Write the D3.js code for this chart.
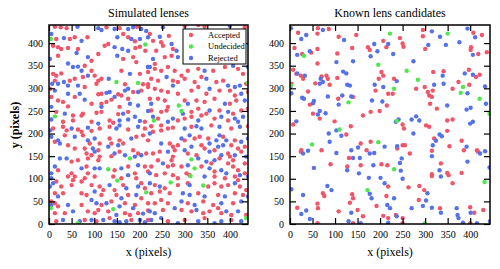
<!DOCTYPE html>
<html>
<head>
<meta charset="utf-8">
<script src="https://cdn.jsdelivr.net/npm/d3@7"></script>
<style>
  html, body { margin: 0; padding: 0; background: #fff; }
  svg { display: block; font-family: "Liberation Serif", "Times New Roman", serif; }
</style>
</head>
<body>
<svg id="chart" width="500" height="269"></svg>
<script>
// Simulated lenses: points (pixel units)
const simAccepted = [
  [13,436],[26,435],[39,433],[127,435],[156,433],[195,436],
  [16,409],[46,409],[57,413],[85,413],[131,398],[123,394],[164,420],[175,413],[190,404],
  [9,394],[20,391],[27,387],[42,389],[64,387],[109,376],[191,389],[201,392],[213,383],
  [20,372],[94,361],[164,365],[186,369],[193,358],[79,350],[94,339],
  [9,332],[16,328],[27,333],[13,317],[46,317],[57,321],[75,325],[101,328],[109,317],[116,321],[160,339],[201,332],[219,336],
  [2,299],[79,303],[105,310],[168,309],[208,309],[219,309],[186,292],[109,287],[116,288],[153,287],[160,284],[204,295],
  [5,281],[20,273],[31,270],[57,281],[94,266],[116,266],[127,270],[138,275],[175,277],[42,260],[156,259],
  [16,248],[53,240],[72,240],[75,244],[105,246],[116,248],[153,243],[175,248],[31,226],[53,229],[94,226],[134,229],[142,224],[212,226],
  [300,438],[330,440],[344,436],[433,435],
  [223,420],[230,405],[248,402],[252,394],[265,416],[274,387],[237,383],[256,369],[271,372],[234,354],
  [234,343],[248,339],[263,347],[278,339],[293,328],[307,339],[330,343],[363,339],[389,347],[418,343],[429,332],
  [226,321],[241,317],[274,317],[285,314],[300,321],[322,314],[337,325],[370,314],[385,317],[436,310],
  [219,303],[234,299],[248,295],[263,292],[285,288],[315,295],[330,303],[348,288],[377,295],[400,295],[411,284],[440,292],
  [223,277],[241,277],[256,273],[263,259],[300,273],[326,273],[344,270],[366,277],[400,266],[414,273],
  [226,251],[248,248],[260,251],[315,248],[330,255],[348,244],[377,251],[407,244],[425,251],[440,255],
  [241,233],[285,229],[300,233],[315,237],[337,240],[366,233],[396,229],
  [9,211],[31,215],[39,207],[64,209],[72,204],[94,206],[112,211],[134,215],[175,209],[212,211],
  [13,182],[35,196],[75,196],[90,178],[112,178],[134,189],[138,178],[156,185],[164,178],[193,193],[208,196],[219,185],
  [42,174],[57,167],[79,167],[109,163],[83,156],[94,152],[112,149],[138,150],[156,160],[186,163],[197,156],[215,156],[50,138],[64,141],[86,145],[109,141],
  [20,119],[50,112],[57,105],[83,127],[86,112],[145,119],[175,127],[212,127],[219,116],[42,105],[53,97],[79,101],[101,105],[142,105],[160,101],[190,112],[193,101],[204,90],
  [16,94],[27,83],[50,86],[72,94],[94,86],[112,83],[120,75],[164,86],[212,79],[13,68],[31,68],[72,68],[83,64],[116,64],[145,75],[149,64],[175,64],[204,57],
  [5,50],[13,46],[20,39],[72,42],[116,42],[138,50],[168,46],[190,42],[219,46],[35,24],[13,24],[86,28],[101,24],[109,31],[131,28],[168,24],[179,20],[197,24],[219,30],[16,6],[79,9],[105,6],[134,13],[182,9],[219,9],
  [226,216],[248,218],[263,211],[274,213],[315,215],[359,218],[403,211],[440,216],
  [230,204],[248,207],[300,185],[322,189],[333,193],[352,189],[385,193],[411,185],[267,178],[274,171],[285,174],[337,174],[344,167],[403,174],[418,167],[433,171],
  [230,156],[245,160],[278,163],[274,149],[307,156],[326,152],[366,163],[396,156],[400,149],[425,160],[241,141],[271,141],[359,134],[377,145],[396,134],[407,141],[433,134],
  [226,127],[263,127],[274,130],[293,127],[304,112],[311,108],[337,127],[366,116],[407,127],[418,119],[433,112],[237,108],[256,112],[274,108],[285,101],[366,105],[389,101],[411,105],[418,97],
  [234,86],[256,79],[285,86],[307,90],[352,83],[366,90],[381,83],[396,86],[422,83],[436,75],[226,68],[245,72],[267,68],[330,68],[374,64],[411,68],[429,64],
  [234,46],[248,53],[263,46],[307,46],[341,50],[363,42],[407,46],[252,31],[293,31],[315,28],[341,24],[355,28],[374,35],[381,24],[403,20],[436,20],[263,6],[300,9],[344,13],[403,9]
];
const simUndecided = [
  [4,409],[213,397],[149,314],[197,312],[13,238],
  [440,312],[287,262],[293,250],[232,229],
  [179,145],[131,121],[151,96],[215,70],[4,35],[142,33],[64,2],
  [315,143],[322,123],[313,106],[269,92],[341,85],[436,13]
];
const simRejected = [
  [63,436],[109,433],[116,429],[145,431],[175,431],[186,435],[204,431],[215,427],
  [5,420],[33,411],[72,405],[151,413],[182,409],[201,409],[219,413],
  [61,378],[145,391],[162,387],[175,383],
  [2,365],[86,369],[151,372],[219,347],[42,355],[53,347],[64,348],
  [7,310],[20,310],[33,314],[72,339],[86,328],[132,321],[179,332],
  [13,295],[42,306],[64,306],[175,299],[168,295],[42,288],[68,288],[127,290],[134,292],[197,292],
  [79,275],[145,281],[179,266],[197,262],[5,259],[116,259],
  [35,244],[164,244],[219,250],[5,231],[109,222],[156,229],[175,231],[190,237],[201,228],
  [252,435],[400,438],[245,414],[271,398],[282,383],[230,365],[285,369],[219,347],
  [223,347],[344,339],[407,350],[440,347],
  [260,325],[348,321],[396,306],[411,303],[422,306],
  [274,306],[355,299],[425,288],
  [226,266],[307,266],[389,266],[433,273],
  [296,244],[355,251],[396,248],
  [230,237],[263,226],[274,233],[330,229],[381,237],[411,233],[418,226],[429,237],
  [2,207],[50,211],[86,213],[149,211],[156,218],[197,215],
  [5,193],[20,185],[24,178],[57,193],[86,185],[101,189],[131,171],[153,174],[182,189],
  [97,167],[101,160],[145,156],[168,152],[190,149],[204,152],[24,145],[39,145],
  [13,127],[5,112],[72,123],[101,123],[112,123],[160,123],[197,130],[175,108],
  [5,101],[2,83],[9,90],[134,86],[171,79],[197,83],[20,61],[101,72],[160,57],[193,64],
  [5,42],[42,42],[94,53],[105,46],[127,46],[156,39],[186,35],[53,28],[149,20],[208,23],[31,9],[68,6],[94,9],[120,9],[145,6],[156,4],[171,6],[201,9],[212,4],
  [300,211],[326,216],[337,211],[377,215],[422,215],
  [223,200],[293,189],[311,196],[355,178],[370,185],[377,196],[392,185],[425,182],[440,189],[248,178],[315,171],[374,171],[385,174],
  [263,160],[300,163],[355,160],[381,152],[411,152],[436,149],[330,145],[348,138],[366,141],
  [252,134],[307,130],[355,123],[381,119],[392,112],[422,108],[223,112],[344,105],[440,105],
  [223,90],[245,83],[311,86],[411,90],[296,68],[311,64],[344,61],[389,61],[440,61],
  [293,50],[322,42],[381,46],[425,50],[223,28],[234,24],[278,35],[326,31],[392,28],[418,28],[226,9],[248,13],[285,2],[330,6],[366,2],[381,6],[425,6]
];

// Known lens candidates
const knownAccepted = [
  [18,423],[62,433],[61,421],[86,431],[108,414],[147,418],
  [10,389],[27,376],[47,379],[61,387],[105,377],[138,389],[173,391],[177,385],[207,405],[214,391],
  [61,355],[7,341],[3,310],[14,332],[24,328],[29,321],[56,311],[70,326],[81,328],[84,321],[88,308],[105,323],[203,336],[197,321],[207,328],[218,288],[190,295],
  [40,293],[44,264],[107,277],[140,281],[162,240],[179,248],[199,250],[215,262],
  [51,244],[66,233],[99,227],[7,220],[135,216],[125,198],[157,178],[179,182],
  [25,163],[24,160],[70,163],[170,163],[131,146],[90,132],[127,127],[157,130],[203,132],[216,130],
  [218,83],[73,68],[76,62],[138,66],[140,57],[214,62],[133,47],[192,40],[16,36],[61,45],[62,35],[108,28],[150,31],[162,17],[207,18],[218,13],[61,2],[140,2],
  [295,429],[295,415],[244,411],[407,423],[426,418],
  [250,399],[252,392],[300,387],[402,391],[401,385],[418,376],[437,380],
  [318,336],[341,338],[231,321],[228,288],[280,299],[299,303],[306,292],[317,295],[309,284],[315,281],[361,299],[374,314],[398,308],[421,330],[397,341],[413,325],
  [311,266],[326,255],[250,220],[253,211],[302,218],[309,215],[349,229],[361,231],[349,206],[320,189],
  [381,184],[238,167],[250,174],[255,174],[266,156],[315,162],[354,172],[386,163],[415,163],[417,160],[315,110],[315,106],[335,134],[349,113],[352,108],[361,90],[381,113],
  [263,81],[287,84],[298,75],[286,53],[333,35],[400,37],[409,25],[429,31],[235,20],[250,13],[250,2],[400,2]
];
const knownUndecided = [
  [222,421],[31,372],[196,352],[2,306],[130,269],[110,209],[49,176],[196,181],[172,75],
  [350,421],[259,339],[284,319],[231,299],[384,303],[379,290],[421,277],[443,244],[237,228],[231,121],[432,93],[299,1]
];
const knownRejected = [
  [2,433],[25,409],[36,418],[73,429],[120,407],
  [16,374],[44,382],[140,360],[187,398],[194,382],[179,371],[218,398],
  [103,358],[1,303],[3,289],[16,333],[33,328],[66,310],[68,321],[73,314],[118,337],[125,333],[127,308],[133,306],[188,308],[207,303],
  [27,279],[31,277],[53,272],[51,267],[84,282],[116,284],[136,282],[108,264],[182,273],[205,271],
  [66,250],[62,242],[79,245],[14,227],[103,207],[86,200],[114,195],[88,182],[210,171],
  [29,156],[40,162],[103,157],[136,163],[151,169],[177,156],[187,157],[140,146],[155,146],[127,119],[53,124],[185,130],[153,112],
  [175,102],[201,102],[210,90],[177,67],[83,84],[92,75],[3,77],[29,64],[181,57],[36,30],[25,22],[136,25],[216,42],[222,35],[44,11],[130,6],[157,2],[218,3],
  [315,426],[333,414],[394,432],[411,413],
  [229,376],[307,396],[346,396],[376,402],[406,374],
  [274,360],[339,328],[237,316],[320,308],[341,310],[394,289],[388,333],[406,330],[433,304],[435,266],
  [349,262],[392,253],[401,257],[235,226],[241,231],[270,231],[280,238],[287,229],[400,222],[406,226],[274,200],[332,198],[337,194],[324,184],
  [238,172],[317,174],[315,150],[392,171],[422,156],[433,161],[248,145],[244,135],[246,118],[332,119],[335,105],[394,138],[443,125],
  [250,100],[305,68],[302,52],[231,57],[270,35],[295,40],[315,36],[335,25],[370,35],[372,20],[374,13],[401,25],[237,17],[384,3],[415,2],[444,6]
];

const tickValues = [0, 50, 100, 150, 200, 250, 300, 350, 400];
const classes = ['Accepted', 'Undecided', 'Rejected'];
const classColors = { Accepted: '#f25468', Undecided: '#4de84d', Rejected: '#5572ea' };

const panels = [
  { title: 'Simulated lenses', left: 49, right: 248, xMax: 440,
    sets: { Accepted: simAccepted, Undecided: simUndecided, Rejected: simRejected }, legend: true },
  { title: 'Known lens candidates', left: 290, right: 490, xMax: 444,
    sets: { Accepted: knownAccepted, Undecided: knownUndecided, Rejected: knownRejected }, legend: false }
];
const plotTop = 25, plotBottom = 224;

const svg = d3.select('#chart');

panels.forEach((p, pi) => {
  const x = d3.scaleLinear().domain([0, p.xMax]).range([p.left, p.right]);
  const y = d3.scaleLinear().domain([0, 440]).range([plotBottom, plotTop]);

  svg.append('clipPath').attr('id', 'clip' + pi)
    .append('rect').attr('x', p.left).attr('y', plotTop)
    .attr('width', p.right - p.left).attr('height', plotBottom - plotTop);

  const pts = svg.append('g').attr('clip-path', `url(#clip${pi})`);
  for (const cls of ['Accepted', 'Rejected', 'Undecided']) {
    pts.selectAll(null).data(p.sets[cls]).join('circle')
      .attr('cx', d => x(d[0])).attr('cy', d => y(d[1]))
      .attr('r', 2.2).attr('fill', classColors[cls]);
  }

  // Axes, ticks inward on all four sides
  const styleAxis = g => {
    g.select('.domain').remove();
    g.selectAll('.tick line').attr('stroke', '#000').attr('stroke-width', 1.2);
    g.selectAll('.tick text').attr('fill', '#000')
      .attr('font-family', '"Liberation Serif", serif').attr('font-size', 10);
  };
  svg.append('g').attr('transform', `translate(0,${plotBottom})`)
    .call(d3.axisBottom(x).tickValues(tickValues).tickSize(-6).tickPadding(7))
    .call(styleAxis);
  svg.append('g').attr('transform', `translate(0,${plotTop})`)
    .call(d3.axisTop(x).tickValues(tickValues).tickSize(-6).tickFormat(''))
    .call(styleAxis);
  svg.append('g').attr('transform', `translate(${p.left},0)`)
    .call(d3.axisLeft(y).tickValues(tickValues).tickSize(-6).tickPadding(6))
    .call(styleAxis);
  svg.append('g').attr('transform', `translate(${p.right},0)`)
    .call(d3.axisRight(y).tickValues(tickValues).tickSize(-6).tickFormat(''))
    .call(styleAxis);

  svg.append('rect').attr('x', p.left).attr('y', plotTop)
    .attr('width', p.right - p.left).attr('height', plotBottom - plotTop)
    .attr('fill', 'none').attr('stroke', '#000').attr('stroke-width', 1.5);

  const cx = (p.left + p.right) / 2;
  svg.append('text').attr('x', cx).attr('y', 17)
    .attr('text-anchor', 'middle').attr('font-size', 12).text(p.title);
  svg.append('text').attr('x', cx).attr('y', 256)
    .attr('text-anchor', 'middle').attr('font-size', 12).text('x (pixels)');

  if (p.legend) {
    const lg = svg.append('g');
    lg.append('rect').attr('x', 183).attr('y', 29).attr('width', 63).attr('height', 35)
      .attr('fill', '#fff').attr('stroke', '#000').attr('stroke-width', 1);
    classes.forEach((cls, i) => {
      const ly = 35 + i * 11.5;
      lg.append('circle').attr('cx', 191).attr('cy', ly).attr('r', 2.2).attr('fill', classColors[cls]);
      lg.append('text').attr('x', 208).attr('y', ly).attr('dy', '0.35em')
        .attr('font-size', 8.5).text(cls);
    });
  }
});

svg.append('text')
  .attr('transform', 'translate(19,125) rotate(-90)')
  .attr('text-anchor', 'middle').attr('font-size', 12).attr('font-weight', 'bold')
  .text('y (pixels)');
</script>
</body>
</html>
